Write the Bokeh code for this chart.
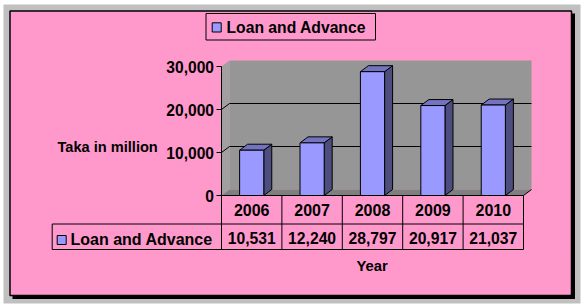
from bokeh.plotting import figure
from bokeh.models import Range1d
from bokeh.core.properties import value
from bokeh.embed import file_html
from bokeh.resources import INLINE

# ---------------- data ----------------
years = ["2006", "2007", "2008", "2009", "2010"]
loans = [10531, 12240, 28797, 20917, 21037]
loan_labels = ["10,531", "12,240", "28,797", "20,917", "21,037"]
y_ticks = [0, 10000, 20000, 30000]
y_tick_labels = ["0", "10,000", "20,000", "30,000"]
series_name = "Loan and Advance"
y_title = "Taka in million"
x_title = "Year"
y_max = 30000

# ---------------- layout helpers (pixel -> data) ----------------
W, H = 585, 307
X_LEFT_PX = 221.0            # front-left corner of the plot area
COL_PX = 60.4                # one category width in pixels
ZERO_PX = 195.0              # pixel row of value 0
PX_PER_VAL = 129.0 / 30000   # vertical pixels per value unit


def dx(px):
    return (px - X_LEFT_PX) / COL_PX


def dy(py):
    return (ZERO_PX - py) / PX_PER_VAL


DEPTH_X = 8.0 / COL_PX
DEPTH_Y = 6.0 / PX_PER_VAL
N = len(years)

FONT = value("Liberation Sans")
PINK = "#FF99CC"
BAR_FRONT = "#9999FF"
BAR_SIDE = "#4D4D80"
BAR_TOP = "#7373C0"

p = figure(width=W, height=H, x_range=Range1d(dx(0), dx(W)), y_range=Range1d(dy(H), dy(0)),
           x_axis_type=None, y_axis_type=None, toolbar_location=None,
           output_backend="svg", min_border=0)
p.outline_line_color = None
p.background_fill_color = "white"
p.border_fill_color = "white"
p.xgrid.visible = False
p.ygrid.visible = False

# ---------------- chart area background ----------------
p.quad(left=dx(3), right=dx(580), top=dy(4), bottom=dy(303), fill_color="#C0C0C0", line_color=None)
p.quad(left=dx(12), right=dx(574.5), top=dy(13), bottom=dy(298.5), fill_color="black", line_color=None)
p.quad(left=dx(9.5), right=dx(571), top=dy(10.5), bottom=dy(295), fill_color=PINK,
       line_color="black", line_width=1.5)

# ---------------- 3D walls ----------------
# left side wall
p.patch([0, DEPTH_X, DEPTH_X, 0], [0, DEPTH_Y, y_max + DEPTH_Y, y_max],
        fill_color="#A0A0A0", line_color=None)
# back wall
p.quad(left=DEPTH_X, right=N + DEPTH_X, bottom=DEPTH_Y, top=y_max + DEPTH_Y,
       fill_color="#969696", line_color=None)
# floor
p.patch([0, N, N + DEPTH_X, DEPTH_X], [0, 0, DEPTH_Y, DEPTH_Y],
        fill_color="#7F7F7F", line_color=None)
p.segment(x0=[N], y0=[0], x1=[N + DEPTH_X], y1=[DEPTH_Y], line_color="black", line_width=1)

# gridlines (back wall + side slant)
grid_vals = [v for v in y_ticks if 0 < v < y_max]
p.segment(x0=[DEPTH_X] * len(grid_vals), y0=[v + DEPTH_Y for v in grid_vals],
          x1=[N + DEPTH_X] * len(grid_vals), y1=[v + DEPTH_Y for v in grid_vals],
          line_color="black", line_width=1)
p.segment(x0=[0] * len(grid_vals), y0=grid_vals,
          x1=[DEPTH_X] * len(grid_vals), y1=[v + DEPTH_Y for v in grid_vals],
          line_color="black", line_width=1)

# ---------------- bars ----------------
BW = 0.4
lefts = [i + 0.5 - BW / 2 for i in range(N)]
rights = [i + 0.5 + BW / 2 for i in range(N)]
p.patches(xs=[[r, r + DEPTH_X, r + DEPTH_X, r] for r in rights],
          ys=[[0, DEPTH_Y, v + DEPTH_Y, v] for v in loans],
          fill_color=BAR_SIDE, line_color="black", line_width=1)
p.patches(xs=[[l, r, r + DEPTH_X, l + DEPTH_X] for l, r in zip(lefts, rights)],
          ys=[[v, v, v + DEPTH_Y, v + DEPTH_Y] for v in loans],
          fill_color=BAR_TOP, line_color="black", line_width=1)
p.quad(left=lefts, right=rights, bottom=[0] * N, top=loans,
       fill_color=BAR_FRONT, line_color="black", line_width=1)

# ---------------- value axis ----------------
p.segment(x0=[0], y0=[0], x1=[0], y1=[y_max], line_color="black", line_width=1)
p.segment(x0=[dx(216)] * len(y_ticks), y0=y_ticks, x1=[0] * len(y_ticks), y1=y_ticks,
          line_color="black", line_width=1)
p.text(x=[dx(213.5)] * len(y_ticks), y=y_ticks, text=y_tick_labels, text_font=FONT,
       text_font_style="bold", text_font_size="15.6px", text_align="right",
       text_baseline="middle", text_color="black")
p.text(x=[dx(57)], y=[dy(146)], text=[y_title], text_font=FONT, text_font_style="bold",
       text_font_size="14.6px", text_align="left", text_baseline="middle", text_color="black")

# ---------------- data table ----------------
TAB_LEFT = dx(51.7)
ROW1 = dy(223.5)
ROW2 = dy(249)
p.segment(x0=[0], y0=[0], x1=[N], y1=[0], line_color="black", line_width=1)
p.segment(x0=[TAB_LEFT, TAB_LEFT], y0=[ROW1, ROW2], x1=[N, N], y1=[ROW1, ROW2],
          line_color="black", line_width=1)
p.segment(x0=list(range(N + 1)), y0=[0] * (N + 1), x1=list(range(N + 1)), y1=[ROW2] * (N + 1),
          line_color="black", line_width=1)
p.segment(x0=[TAB_LEFT], y0=[ROW1], x1=[TAB_LEFT], y1=[ROW2], line_color="black", line_width=1)

p.text(x=[i + 0.5 for i in range(N)], y=[dy(209.5)] * N, text=years, text_font=FONT,
       text_font_style="bold", text_font_size="16px", text_align="center",
       text_baseline="middle", text_color="black")
p.text(x=[i + 0.5 for i in range(N)], y=[dy(237.5)] * N, text=loan_labels, text_font=FONT,
       text_font_style="bold", text_font_size="15.7px", text_align="center",
       text_baseline="middle", text_color="black")
p.quad(left=[dx(56.7)], right=[dx(65.7)], top=[dy(235)], bottom=[dy(244)],
       fill_color=BAR_FRONT, line_color="black", line_width=1)
p.text(x=[dx(70)], y=[dy(238.5)], text=[series_name], text_font=FONT, text_font_style="bold",
       text_font_size="16px", text_align="left", text_baseline="middle", text_color="black")

p.text(x=[dx(371.7)], y=[dy(265)], text=[x_title], text_font=FONT, text_font_style="bold",
       text_font_size="14.8px", text_align="center", text_baseline="middle", text_color="black")

# ---------------- legend (top) ----------------
p.quad(left=[dx(205.5)], right=[dx(375)], top=[dy(13)], bottom=[dy(39.5)],
       fill_color=PINK, line_color="black", line_width=1)
p.quad(left=[dx(211.7)], right=[dx(220.7)], top=[dy(22.3)], bottom=[dy(31.5)],
       fill_color=BAR_FRONT, line_color="black", line_width=1)
p.text(x=[dx(226)], y=[dy(26.5)], text=[series_name], text_font=FONT, text_font_style="bold",
       text_font_size="15.7px", text_align="left", text_baseline="middle", text_color="black")

open("out.html", "w").write(file_html(p, INLINE))
